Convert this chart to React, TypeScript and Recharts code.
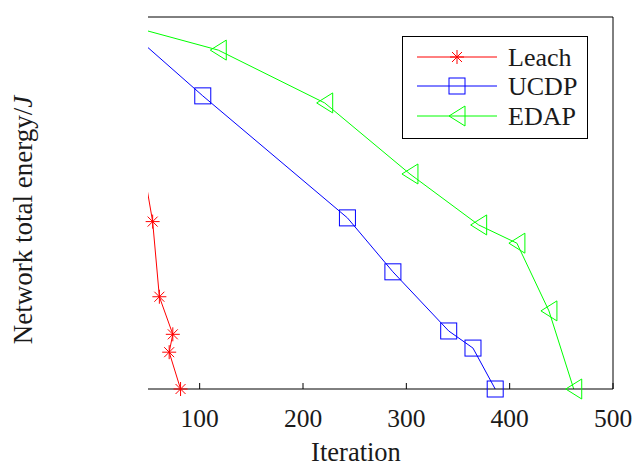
import { LineChart, Line, XAxis, YAxis, Legend } from "recharts";

// values (energy on an unlabeled 0-100 scale)
const leachIter = [0, 54.5, 61, 74, 70.5, 81.5];
const leachEnergy = [133, 45, 24.8, 14.7, 9.9, 0];
const ucdpIter = [0, 103, 243, 287, 341, 364.5, 386];
const ucdpEnergy = [104, 78.8, 46, 31.5, 15.6, 11, 0];
const edapIter = [0, 118, 221, 303.5, 370, 407, 438, 462];
const edapEnergy = [100, 91.1, 76.9, 57.8, 44.1, 39.2, 21, 0];
const xTicks = [100, 200, 300, 400, 500];
const yTicks = [0, 25, 50, 75, 100];

const toPoints = (xs: number[], ys: number[]) => xs.map((x, i) => ({ iter: x, energy: ys[i] }));

const leach = toPoints(leachIter, leachEnergy);
const ucdp = toPoints(ucdpIter, ucdpEnergy);
const edap = toPoints(edapIter, edapEnergy);

const RED = "#ff0000";
const BLUE = "#0000ff";
const GREEN = "#00ff00";
const FONT = "Liberation Serif";
const INK = "#1a1a1a";

function Star({ cx, cy }: { cx: number; cy: number }) {
  return (
    <g stroke={RED} strokeWidth={1}>
      <line x1={cx - 7} y1={cy} x2={cx + 7} y2={cy} />
      <line x1={cx} y1={cy - 7} x2={cx} y2={cy + 7} />
      <line x1={cx - 5} y1={cy - 5} x2={cx + 5} y2={cy + 5} />
      <line x1={cx - 5} y1={cy + 5} x2={cx + 5} y2={cy - 5} />
    </g>
  );
}

function Square({ cx, cy }: { cx: number; cy: number }) {
  return <rect x={cx - 8} y={cy - 8} width={16} height={16} fill="none" stroke={BLUE} strokeWidth={1} />;
}

function LeftTri({ cx, cy }: { cx: number; cy: number }) {
  return (
    <polygon
      points={`${cx - 8},${cy} ${cx + 8},${cy - 10} ${cx + 8},${cy + 10}`}
      fill="none"
      stroke={GREEN}
      strokeWidth={1}
    />
  );
}

function XTick(props: any) {
  const { x, payload } = props;
  return (
    <text x={x} y={427} textAnchor="middle" fontFamily={FONT} fontSize={25.5} fill={INK}>
      {payload.value}
    </text>
  );
}

function LegendBox() {
  const rows = [
    { name: "Leach", color: RED, Mark: Star, y: 21 },
    { name: "UCDP", color: BLUE, Mark: Square, y: 50 },
    { name: "EDAP", color: GREEN, Mark: LeftTri, y: 80 },
  ];
  return (
    <svg width={186} height={103} style={{ display: "block" }}>
      <rect x={0.5} y={0.5} width={185} height={102} fill="#fff" stroke="#000" strokeWidth={1} />
      {rows.map(({ name, color, Mark, y }) => (
        <g key={name}>
          <line x1={15} y1={y} x2={95} y2={y} stroke={color} strokeWidth={1} />
          <Mark cx={55} cy={y} />
          <text x={106} y={y + 9} fontFamily={FONT} fontSize={26} fill={INK}>
            {name}
          </text>
        </g>
      ))}
    </svg>
  );
}

export default function App() {
  return (
    <div style={{ position: "absolute", left: 0, top: 0, background: "#fff", fontFamily: FONT }}>
      <LineChart width={633} height={465} margin={{ top: 0, right: 0, bottom: 0, left: 0 }}>
        <XAxis
          xAxisId="main"
          type="number"
          dataKey="iter"
          domain={[50, 500]}
          allowDataOverflow
          ticks={xTicks}
          height={76}
          tickSize={-6}
          stroke="#000"
          tick={<XTick />}
          label={{
            content: () => (
              <text x={356} y={461} textAnchor="middle" fontFamily={FONT} fontSize={26.5} fill={INK}>
                Iteration
              </text>
            ),
          }}
        />
        <XAxis
          xAxisId="top"
          orientation="top"
          type="number"
          domain={[50, 500]}
          allowDataOverflow
          ticks={xTicks}
          height={17}
          tickSize={-6}
          tick={false}
          stroke="#000"
        />
        <YAxis
          yAxisId="main"
          type="number"
          domain={[0, 100]}
          allowDataOverflow
          ticks={yTicks}
          width={148}
          axisLine={false}
          tickLine={false}
          tick={false}
          label={{
            content: () => (
              <text
                x={32}
                y={220}
                transform="rotate(-90 32 220)"
                textAnchor="middle"
                fontFamily={FONT}
                fontSize={27}
                fill={INK}
              >
                Network total energy/<tspan fontStyle="italic">J</tspan>
              </text>
            ),
          }}
        />
        <YAxis
          yAxisId="right"
          orientation="right"
          type="number"
          domain={[0, 100]}
          allowDataOverflow
          ticks={yTicks}
          width={20}
          tickSize={-6}
          tick={false}
          stroke="#000"
        />
        <XAxis xAxisId="mark" type="number" dataKey="iter" domain={[50, 500]} hide />
        <YAxis yAxisId="mark" type="number" domain={[0, 100]} hide />

        <Line xAxisId="main" yAxisId="main" data={leach} dataKey="energy" stroke={RED} strokeWidth={1} dot={false} activeDot={false} isAnimationActive={false} />
        <Line xAxisId="main" yAxisId="main" data={ucdp} dataKey="energy" stroke={BLUE} strokeWidth={1} dot={false} activeDot={false} isAnimationActive={false} />
        <Line xAxisId="main" yAxisId="main" data={edap} dataKey="energy" stroke={GREEN} strokeWidth={1} dot={false} activeDot={false} isAnimationActive={false} />

        <Line xAxisId="mark" yAxisId="mark" data={leach.slice(1)} dataKey="energy" stroke="none" activeDot={false} isAnimationActive={false}
          dot={(p: any) => <Star key={`l${p.index}`} cx={p.cx} cy={p.cy} />} />
        <Line xAxisId="mark" yAxisId="mark" data={ucdp.slice(1)} dataKey="energy" stroke="none" activeDot={false} isAnimationActive={false}
          dot={(p: any) => <Square key={`u${p.index}`} cx={p.cx} cy={p.cy} />} />
        <Line xAxisId="mark" yAxisId="mark" data={edap.slice(1)} dataKey="energy" stroke="none" activeDot={false} isAnimationActive={false}
          dot={(p: any) => <LeftTri key={`e${p.index}`} cx={p.cx} cy={p.cy} />} />

        <Legend
          layout="vertical"
          align="center"
          verticalAlign="middle"
          wrapperStyle={{ left: 402, top: 36, width: 186, height: 103 }}
          content={() => <LegendBox />}
        />
      </LineChart>
    </div>
  );
}
